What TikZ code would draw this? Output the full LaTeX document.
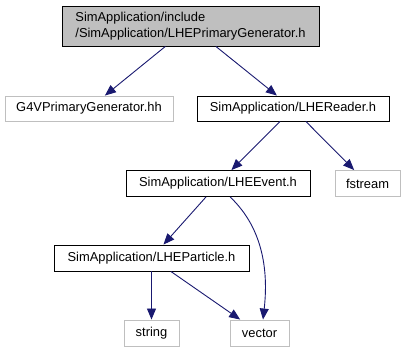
\documentclass[tikz,border=0pt]{standalone}
\usepackage{fontspec}
\setmainfont{Liberation Sans}
\usetikzlibrary{arrows.meta}
\definecolor{edgeblue}{HTML}{191970}
\definecolor{boxgray}{HTML}{BFBFBF}
\begin{document}
\begin{tikzpicture}[x=1pt,y=-1pt,
  every node/.style={font=\fontsize{12.9}{16.5}\selectfont, inner sep=0pt, align=center},
  filebox/.style={draw=black, fill=white, line width=0.9pt},
  extbox/.style={draw=boxgray, fill=white, line width=0.9pt},
  rootbox/.style={draw=black, fill=boxgray, line width=0.9pt},
  edge/.style={draw=edgeblue, line width=0.9pt,
    -{Triangle[length=11pt,width=9pt,fill=edgeblue]}}]
  \useasboundingbox (0,0) rectangle (407,352);

  % include graph nodes
  \node[rootbox, minimum width=257pt, minimum height=40pt, align=left] (top) at (190.5,26)
    {SimApplication/include\\/SimApplication/LHEPrimaryGenerator.h};
  \node[extbox, minimum width=168pt, minimum height=25pt] (g4v) at (89,108.5) {G4VPrimaryGenerator.hh};
  \node[filebox, minimum width=192pt, minimum height=25pt] (reader) at (293,108.5) {SimApplication/LHEReader.h};
  \node[filebox, minimum width=184pt, minimum height=26pt] (event) at (218,183.5) {SimApplication/LHEEvent.h};
  \node[extbox, minimum width=65pt, minimum height=26pt] (fstream) at (367.5,183.5) {fstream};
  \node[filebox, minimum width=195pt, minimum height=26pt] (particle) at (151.5,258) {SimApplication/LHEParticle.h};
  \node[extbox, minimum width=55pt, minimum height=26pt] (string) at (151.5,333) {string};
  \node[extbox, minimum width=59pt, minimum height=26pt] (vector) at (259.5,333) {vector};

  % dependencies
  \draw[edge] (top) -- (g4v);
  \draw[edge] (top) -- (reader);
  \draw[edge] (reader) -- (event);
  \draw[edge] (reader) -- (fstream);
  \draw[edge] (event) -- (particle);
  \draw[edge] (event.-48) .. controls (265,230) and (268,275) .. ([xshift=3.5pt]vector.north);
  \draw[edge] (particle) -- (string);
  \draw[edge] (particle) -- (vector);
\end{tikzpicture}
\end{document}
